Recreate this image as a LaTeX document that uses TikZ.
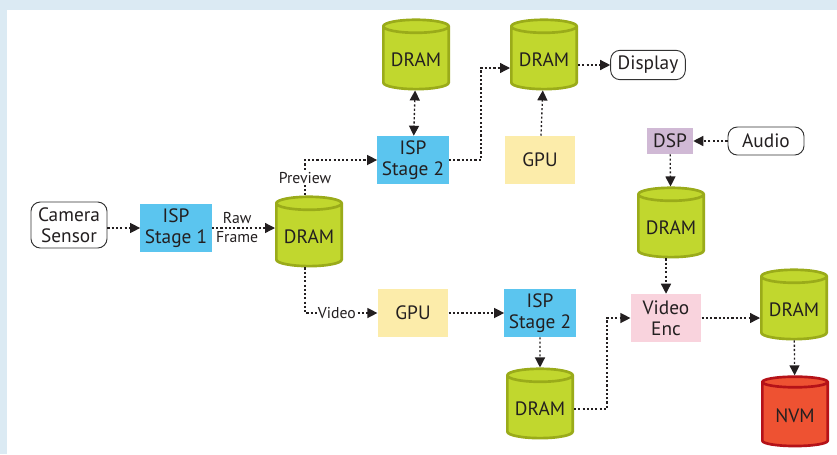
\documentclass[tikz,border=0pt]{standalone}
\usepackage{fontspec}
\setmainfont{PT Sans}
\usetikzlibrary{shapes.geometric,arrows.meta}

\definecolor{bgblue}{RGB}{219,234,243}
\definecolor{txt}{RGB}{35,31,32}
\definecolor{ispblue}{RGB}{91,197,239}
\definecolor{gpuyellow}{RGB}{252,236,170}
\definecolor{dsppurple}{RGB}{208,185,213}
\definecolor{encpink}{RGB}{249,211,221}
\definecolor{dramfill}{RGB}{193,215,46}
\definecolor{dramedge}{RGB}{154,171,26}
\definecolor{nvmfill}{RGB}{238,82,50}
\definecolor{nvmedge}{RGB}{181,18,24}

\tikzset{
  every node/.style={text=txt},
  mainfont/.style={font=\fontsize{14.5}{15.75}\selectfont},
  smallfont/.style={font=\fontsize{11.8}{12}\selectfont},
  dram/.style={cylinder, shape border rotate=90, aspect=0.22, draw=dramedge, fill=dramfill,
    line width=2pt, minimum width=49pt, minimum height=52pt, mainfont},
  nvm/.style={dram, draw=nvmedge, fill=nvmfill},
  block/.style={minimum width=53pt, minimum height=36pt, align=center, mainfont},
  term/.style={draw=black!80, rounded corners=7pt, line width=0.7pt, fill=white, align=center, mainfont, inner sep=1pt},
  arr/.style={draw=txt, line width=1pt, dash pattern=on 1.6pt off 1.6pt, -{Triangle[length=7.5pt,width=7.5pt]}},
  lbl/.style={fill=white, inner sep=1pt, smallfont},
}

\begin{document}
\begin{tikzpicture}[x=0.75pt,y=0.75pt,yscale=-1]
\useasboundingbox (0,0) rectangle (837,454);

%Shape: Frame
\fill [bgblue] (0,0) rectangle (837,454);
\fill [white] (7,10) rectangle (837,454);

% Text Node
\draw (69,225) node [term, minimum width=57pt, minimum height=34.5pt] (cam) {Camera\\Sensor};
% Text Node
\draw (176,228) node [block, fill=ispblue] (isp1) {ISP\\Stage 1};
% Text Node
\draw (309,237) node [dram] (dram1) {DRAM};
% Text Node
\draw (416,60) node [dram] (dramtop) {DRAM};
% Text Node
\draw (413,160) node [block, fill=ispblue] (isp2a) {ISP\\Stage 2};
% Text Node
\draw (544,60) node [dram] (dramdisp) {DRAM};
% Text Node
\draw (540,160) node [block, fill=gpuyellow] (gpu1) {GPU};
% Text Node
\draw (648,65) node [term, minimum width=56pt, minimum height=22pt] (disp) {Display};
% Text Node
\draw (670,141) node [block, fill=dsppurple, minimum width=34.5pt, minimum height=19.5pt] (dsp) {DSP};
% Text Node
\draw (766,141) node [term, minimum width=57pt, minimum height=21pt] (audio) {Audio};
% Text Node
\draw (671,228) node [dram] (dramaud) {DRAM};
% Text Node
\draw (413,313) node [block, fill=gpuyellow] (gpu2) {GPU};
% Text Node
\draw (540,313) node [block, fill=ispblue] (isp2b) {ISP\\Stage 2};
% Text Node
\draw (540,409) node [dram] (dramvid) {DRAM};
% Text Node
\draw (666,318) node [block, fill=encpink] (venc) {Video\\Enc};
% Text Node
\draw (794,310) node [dram] (dramenc) {DRAM};
% Text Node
\draw (795,416) node [nvm] (nvm) {NVM};

%Connectors
\draw [arr] (cam.east |- isp1.west) -- (isp1.west) ;
\draw [arr] (isp1.east) -- node [above, pos=0.4, inner sep=3pt, smallfont] {Raw} node [below, pos=0.4, inner sep=2pt, smallfont] {Frame} (isp1.east -| dram1.west) ;
\draw [arr] ([xshift=-3pt]dram1.north) |- node [lbl, pos=0.25] {Preview} (isp2a.west) ;
\draw [arr] ([xshift=-3pt]dram1.south) |- node [lbl, pos=0.72] {Video} (gpu2.west) ;
\draw [arr, {Triangle[length=7.5pt,width=7.5pt]}-{Triangle[length=7.5pt,width=7.5pt]}] (dramtop) -- (isp2a) ;
\draw [arr] (isp2a.east) -- ++(32,0) |- ([yshift=6pt]dramdisp.west) ;
\draw [arr] (gpu1) -- (dramdisp) ;
\draw [arr] (dramdisp.east |- disp) -- (disp) ;
\draw [arr] (audio) -- (dsp) ;
\draw [arr] (dsp) -- (dramaud) ;
\draw [arr] (dramaud.south -| venc.north) -- (venc) ;
\draw [arr] (gpu2) -- (isp2b) ;
\draw [arr] (isp2b) -- (dramvid) ;
\draw [arr] (dramvid.east) -- ++(33,0) |- (venc.west) ;
\draw [arr] (venc.east) -- (dramenc.west |- venc.east) ;
\draw [arr] (dramenc) -- (nvm) ;

\end{tikzpicture}
\end{document}
